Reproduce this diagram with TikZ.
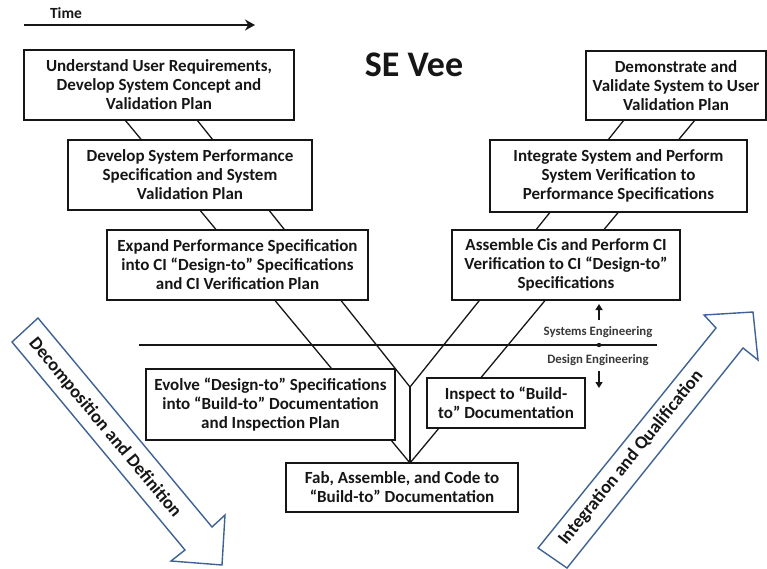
\documentclass[tikz,border=0pt]{standalone}
\usepackage{fontspec}
\setmainfont{Carlito}
\usetikzlibrary{arrows.meta,backgrounds}
\definecolor{ink}{RGB}{22,22,22}
\definecolor{arrowblue}{RGB}{62,98,148}
\begin{document}
\begin{tikzpicture}[x=1pt,y=-1pt,
  box/.style={draw=ink,line width=1.6pt,fill=white,inner sep=0pt,align=center,
    text=ink,font=\fontsize{17}{19}\selectfont\bfseries},
  vee/.style={draw=ink,line width=1.3pt},
  bigarrow/.style={draw=arrowblue,line width=1.4pt,fill=white,line join=miter},
  arrowtext/.style={text=ink,font=\fontsize{18.3}{20}\selectfont\bfseries,inner sep=0pt},
  smalllabel/.style={text=ink!85,font=\fontsize{12.8}{14}\selectfont\bfseries,inner sep=0pt},
  levelarrow/.style={draw=ink,line width=1.5pt,-{Triangle[length=6pt,width=7pt]}}
]
\useasboundingbox (0,0) rectangle (767,569);

% time axis
\coordinate (timeA) at (24,25);
\coordinate (timeB) at (255,25);
\draw[ink,line width=2.6pt,-{Stealth[length=10pt,width=11pt]}] (timeA) -- (timeB);
\node[text=ink,font=\fontsize{15.5}{17}\selectfont\bfseries,inner sep=0pt] (time) at (66,13) {Time};

% title
\node[text=ink,font=\fontsize{36}{40}\selectfont\bfseries,inner sep=0pt] (title) at (414,65) {SE Vee};

% process steps
\node[box,minimum width=270pt,minimum height=70pt] (understand) at (159,85)
  {Understand User Requirements,\\Develop System Concept and\\Validation Plan};
\node[box,minimum width=244pt,minimum height=70pt] (develop) at (190,175)
  {Develop System Performance\\Specification and System\\Validation Plan};
\node[box,minimum width=261pt,minimum height=70pt] (expand) at (237.5,265)
  {Expand Performance Specification\\into CI “Design-to” Specifications\\and CI Verification Plan};
\node[box,minimum width=249pt,minimum height=71pt] (evolve) at (270.5,404.5)
  {Evolve “Design-to” Specifications\\into “Build-to” Documentation\\and Inspection Plan};
\node[box,minimum width=232pt,minimum height=49pt] (fab) at (402,487.5)
  {Fab, Assemble, and Code to\\“Build-to” Documentation};
\node[box,minimum width=158pt,minimum height=50pt] (inspect) at (506,403)
  {Inspect to “Build-\\to” Documentation};
\node[box,minimum width=228pt,minimum height=70pt] (assemble) at (566,265)
  {Assemble Cis and Perform CI\\Verification to CI “Design-to”\\Specifications};
\node[box,minimum width=257pt,minimum height=72pt] (integrate) at (618.5,176)
  {Integrate System and Perform\\System Verification to\\Performance Specifications};
\node[box,minimum width=180pt,minimum height=69pt] (demonstrate) at (676,85.5)
  {Demonstrate and\\Validate System to User\\Validation Plan};

% the two legs of the vee, running behind the step boxes
\coordinate (leftA) at (125,120);
\coordinate (leftB) at (197,120);
\coordinate (rightA) at (624,120);
\coordinate (rightB) at (695,120);
\coordinate (apex) at (410,387);
\coordinate (base) at (410,463);
\begin{pgfonlayer}{background}
  \draw[vee] (leftA) -- (base);
  \draw[vee] (leftB) -- (apex);
  \draw[vee] (rightA) -- (apex);
  \draw[vee] (rightB) -- (base);
  \draw[vee] (apex) -- (base);
\end{pgfonlayer}

% boundary between systems and design engineering
\coordinate (sepL) at (139,345);
\coordinate (sepR) at (657,345);
\coordinate (sepDot) at (599,345);
\draw[ink,line width=2.4pt] (sepL) -- (sepR);
\fill[ink] (sepDot) circle (2.2pt);
\node[smalllabel] (syseng) at (598,332) {Systems Engineering};
\node[smalllabel] (deseng) at (598,360) {Design Engineering};
\coordinate (upA) at (599,320);
\coordinate (upB) at (599,304);
\coordinate (downA) at (599,371);
\coordinate (downB) at (599,388);
\draw[levelarrow] (upA) -- (upB);
\draw[levelarrow] (downA) -- (downB);

% decomposition arrow (left, pointing down)
\draw[bigarrow] (12,342) -- (38,318) -- (212,527) -- (225,515) -- (222,565)
  -- (171,561) -- (185,550) -- cycle;
\node[arrowtext,rotate=-50.2] (decomp) at (105,428) {Decomposition and Definition};

% integration arrow (right, pointing up)
\draw[bigarrow] (538,548) -- (716,328) -- (704,315) -- (753,312) -- (758,360)
  -- (743,348) -- (567,568) -- cycle;
\node[arrowtext,rotate=51] (integ) at (631,458) {Integration and Qualification};
\end{tikzpicture}
\end{document}
